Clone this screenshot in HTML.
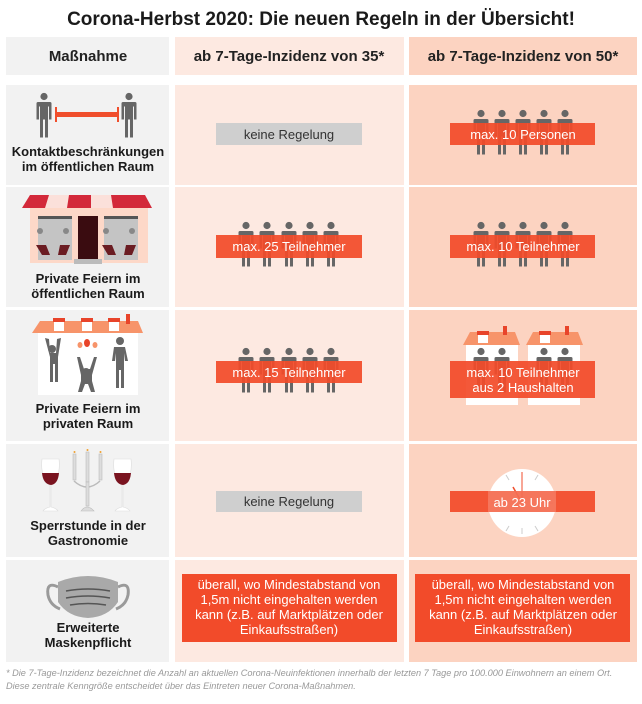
<!DOCTYPE html>
<html><head><meta charset="utf-8"><style>
html,body{margin:0;padding:0;background:#fff;}
body{width:642px;height:699px;overflow:hidden;font-family:"Liberation Sans",sans-serif;}
</style></head><body>
<svg width="642" height="699" viewBox="0 0 642 699" xmlns="http://www.w3.org/2000/svg" font-family="Liberation Sans, sans-serif">
<defs>
<g id="p" fill="#666">
<circle cx="0" cy="3.5" r="3.6"/>
<path d="M-6,9 h12 a1.5,1.5 0 0 1 1.5,1.5 v16 h-2.5 v-13 h-1 v31 h-3 v-18 h-2 v18 h-3 v-31 h-1 v13 h-2.5 v-16 a1.5,1.5 0 0 1 1.5,-1.5z"/>
</g>
</defs>
<text x="321" y="25" text-anchor="middle" font-size="19" font-weight="bold" fill="#1a1a1a">Corona-Herbst 2020: Die neuen Regeln in der Übersicht!</text>
<rect x="6" y="37" width="163" height="38" fill="#f2f2f2"/>
<rect x="175" y="37" width="229" height="38" fill="#fde9e1"/>
<rect x="409" y="37" width="228" height="38" fill="#fcd3c1"/>
<g font-size="15" font-weight="bold" fill="#222" text-anchor="middle">
<text x="88" y="61">Maßnahme</text>
<text x="289" y="61">ab 7-Tage-Inzidenz von 35*</text>
<text x="523" y="61">ab 7-Tage-Inzidenz von 50*</text>
</g>
<g fill="#f2f2f2">
<rect x="6" y="85" width="163" height="100"/><rect x="6" y="187" width="163" height="120"/><rect x="6" y="310" width="163" height="131"/><rect x="6" y="444" width="163" height="113"/><rect x="6" y="560" width="163" height="102"/>
</g>
<g fill="#fde9e1">
<rect x="175" y="85" width="229" height="100"/><rect x="175" y="187" width="229" height="120"/><rect x="175" y="310" width="229" height="131"/><rect x="175" y="444" width="229" height="113"/><rect x="175" y="560" width="229" height="102"/>
</g>
<g fill="#fcd3c1">
<rect x="409" y="85" width="228" height="100"/><rect x="409" y="187" width="228" height="120"/><rect x="409" y="310" width="228" height="131"/><rect x="409" y="444" width="228" height="113"/><rect x="409" y="560" width="228" height="102"/>
</g>
<g font-size="13" font-weight="bold" fill="#1a1a1a" text-anchor="middle">
<text x="88" y="156">Kontaktbeschränkungen</text><text x="88" y="171">im öffentlichen Raum</text>
<text x="88" y="283">Private Feiern im</text><text x="88" y="298">öffentlichen Raum</text>
<text x="88" y="413">Private Feiern im</text><text x="88" y="428">privaten Raum</text>
<text x="88" y="530">Sperrstunde in der</text><text x="88" y="545">Gastronomie</text>
<text x="88" y="632">Erweiterte</text><text x="88" y="647">Maskenpflicht</text>
</g>
<use href="#p" transform="translate(44,93)"/>
<use href="#p" transform="translate(129,93)"/>
<rect x="56" y="112" width="62" height="5" fill="#f04e2c"/>
<rect x="55" y="107" width="2" height="15" fill="#f04e2c"/><rect x="117" y="107" width="2" height="15" fill="#f04e2c"/>
<rect x="216" y="123" width="146" height="22" fill="#cfcfcf"/>
<text x="289" y="139" text-anchor="middle" font-size="13" fill="#333">keine Regelung</text>
<g transform="translate(0,110)"><use href="#p" x="481"/><use href="#p" x="502"/><use href="#p" x="523"/><use href="#p" x="544"/><use href="#p" x="565"/></g>
<rect x="450" y="123" width="145" height="22" fill="#f24b2a" fill-opacity="0.93"/>
<text x="523" y="139" text-anchor="middle" font-size="13" fill="#fff">max. 10 Personen</text>
<rect x="30" y="208" width="118" height="55" fill="#fdd8c8"/>
<path d="M22,208 L30,195 H145 L152,208Z" fill="#d3293a"/>
<path d="M49,195 h20 l-2,13 h-22z M91,195 h20 l2,13 h-22z" fill="#fbe0da"/>
<rect x="38" y="216" width="34" height="44" fill="#c4c4c4"/><rect x="104" y="216" width="34" height="44" fill="#c4c4c4"/>
<rect x="38" y="216" width="34" height="3" fill="#555"/><rect x="104" y="216" width="34" height="3" fill="#555"/>
<rect x="78" y="216" width="20" height="43" fill="#3a0c10"/>
<rect x="74" y="259" width="28" height="5" fill="#bbb"/>
<g fill="#6b1c22"><path d="M36,245 h10 l4,10 h-8z"/><path d="M60,245 h10 l-4,10 h-8z"/><path d="M102,245 h10 l4,10 h-8z"/><path d="M126,245 h10 l-4,10 h-8z"/></g>
<g fill="#888"><circle cx="40" cy="231" r="3"/><circle cx="66" cy="231" r="3"/><circle cx="106" cy="231" r="3"/><circle cx="132" cy="231" r="3"/></g>
<g transform="translate(0,222)"><use href="#p" x="246"/><use href="#p" x="267"/><use href="#p" x="289"/><use href="#p" x="310"/><use href="#p" x="331"/></g>
<rect x="216" y="235" width="146" height="23" fill="#f24b2a" fill-opacity="0.93"/>
<text x="289" y="251" text-anchor="middle" font-size="13" fill="#fff">max. 25 Teilnehmer</text>
<g transform="translate(0,222)"><use href="#p" x="481"/><use href="#p" x="502"/><use href="#p" x="523"/><use href="#p" x="544"/><use href="#p" x="565"/></g>
<rect x="450" y="235" width="145" height="23" fill="#f24b2a" fill-opacity="0.93"/>
<text x="523" y="251" text-anchor="middle" font-size="13" fill="#fff">max. 10 Teilnehmer</text>
<rect x="38" y="333" width="100" height="62" fill="#fff"/>
<path d="M32,333 L40,321 H138 L143,333Z" fill="#f7946a"/>
<g fill="#e8442a"><rect x="53" y="318" width="12" height="4"/><rect x="81" y="318" width="12" height="4"/><rect x="108" y="318" width="12" height="4"/><rect x="126" y="314" width="4" height="10"/></g>
<g fill="#fff"><rect x="54" y="322" width="10" height="9"/><rect x="82" y="322" width="10" height="9"/><rect x="109" y="322" width="10" height="9"/></g>
<g fill="#666">
<circle cx="52" cy="349" r="4"/><path d="M45,338 l4,1 l1,14 h6 l1,-14 l4,-1 l-3,19 v25 h-3 v-18 h-2 v18 h-3 v-25z"/>
<circle cx="86" cy="372" r="4"/><path d="M77,357 l3,0 l4,12 h6 l4,-12 h3 l-5,18 v6 l3,11 h-4 l-3,-8 h-3 l-3,8 h-4 l3,-11 v-6z"/>
<circle cx="120" cy="341" r="4"/><path d="M114,347 h11 l3,14 h-3 l-1,-8 v35 h-3 v-18 h-2 v18 h-3 v-35 l-1,8 h-3z"/>
</g>
<g fill="#e8442a"><ellipse cx="87" cy="343" rx="3" ry="4"/><ellipse cx="80" cy="345" rx="2.5" ry="3" fill="#f7946a"/><ellipse cx="95" cy="345" rx="2.5" ry="3" fill="#f7946a"/></g>
<g transform="translate(0,348)"><use href="#p" x="246"/><use href="#p" x="267"/><use href="#p" x="289"/><use href="#p" x="310"/><use href="#p" x="331"/></g>
<rect x="216" y="361" width="146" height="22" fill="#f24b2a" fill-opacity="0.93"/>
<text x="289" y="377" text-anchor="middle" font-size="13" fill="#fff">max. 15 Teilnehmer</text>
<rect x="466" y="345" width="52" height="60" fill="#fff"/><rect x="528" y="345" width="52" height="60" fill="#fff"/>
<path d="M463,345 L470,332 H515 L520,345Z M526,345 L533,332 H578 L583,345Z" fill="#f7946a"/>
<g fill="#e8442a"><rect x="477" y="331" width="12" height="4"/><rect x="503" y="326" width="4" height="9"/><rect x="539" y="331" width="12" height="4"/><rect x="565" y="326" width="4" height="9"/></g>
<g fill="#fff"><rect x="478" y="335" width="10" height="8"/><rect x="540" y="335" width="10" height="8"/></g>
<g transform="translate(0,348)"><use href="#p" x="481"/><use href="#p" x="502"/><use href="#p" x="544"/><use href="#p" x="565"/></g>
<rect x="450" y="361" width="145" height="37" fill="#f24b2a" fill-opacity="0.93"/>
<text x="523" y="377" text-anchor="middle" font-size="13" fill="#fff">max. 10 Teilnehmer</text>
<text x="523" y="392" text-anchor="middle" font-size="13" fill="#fff">aus 2 Haushalten</text>
<g>
<path d="M42,459 h17 q2,18 -8,26 v22 q5,1 7,4 h-15 q2,-3 7,-4 v-22 q-10,-8 -8,-26z" fill="#fff" stroke="#ddd" stroke-width="0.6"/>
<path d="M42,473 h17 q-1,11 -8,12 q-8,-1 -9,-12z" fill="#7a1420"/>
<path d="M114,459 h17 q2,18 -8,26 v22 q5,1 7,4 h-15 q2,-3 7,-4 v-22 q-10,-8 -8,-26z" fill="#fff" stroke="#ddd" stroke-width="0.6"/>
<path d="M114,473 h17 q-1,11 -8,12 q-8,-1 -9,-12z" fill="#7a1420"/>
<g fill="#ddd" stroke="#bbb" stroke-width="0.6">
<rect x="73" y="454" width="3" height="26"/><rect x="86" y="452" width="3" height="30"/><rect x="99" y="454" width="3" height="26"/>
<path d="M74,481 q13,12 26,0" fill="none" stroke="#bbb" stroke-width="1.5"/>
<rect x="86" y="482" width="3" height="24"/><path d="M81,511 q6,-8 13,0z"/>
</g>
<g fill="#f0a030"><circle cx="74.5" cy="452" r="1"/><circle cx="87.5" cy="450" r="1"/><circle cx="100.5" cy="452" r="1"/></g>
</g>
<rect x="216" y="491" width="146" height="21" fill="#cfcfcf"/>
<text x="289" y="506" text-anchor="middle" font-size="13" fill="#333">keine Regelung</text>
<circle cx="522" cy="503" r="34" fill="#fff"/>
<g stroke="#ccc" stroke-width="1"><line x1="522" y1="472" x2="522" y2="478"/><line x1="522" y1="528" x2="522" y2="534"/><line x1="491" y1="503" x2="497" y2="503"/><line x1="547" y1="503" x2="553" y2="503"/><line x1="538" y1="475" x2="535" y2="480"/><line x1="506" y1="475" x2="509" y2="480"/><line x1="538" y1="531" x2="535" y2="526"/><line x1="506" y1="531" x2="509" y2="526"/></g>
<line x1="522" y1="503" x2="522" y2="472" stroke="#f04e2c" stroke-width="1"/>
<line x1="522" y1="503" x2="513" y2="487" stroke="#f04e2c" stroke-width="1.5"/>
<rect x="450" y="491" width="145" height="21" fill="#f24b2a" fill-opacity="0.93"/>
<rect x="488" y="491" width="68" height="21" fill="#fff" fill-opacity="0.18"/>
<text x="522" y="507" text-anchor="middle" font-size="13" fill="#fff">ab 23 Uhr</text>
<path d="M58,587 q-12,-6 -10,8 q2,10 12,14" fill="none" stroke="#9a9a9a" stroke-width="3"/>
<path d="M118,587 q12,-6 10,8 q-2,10 -12,14" fill="none" stroke="#9a9a9a" stroke-width="3"/>
<path d="M58,582 q30,-12 60,0 v20 q-10,15 -30,16 q-20,-1 -30,-16z" fill="#a9a9a9"/>
<g stroke="#555" stroke-width="1.6" fill="none"><path d="M66,591 q22,-4 44,0"/><path d="M66,598 q22,-4 44,0"/><path d="M70,605 q18,-3 36,0"/></g>
<rect x="182" y="574" width="215" height="68" fill="#f24b2a"/>
<rect x="415" y="574" width="215" height="68" fill="#f24b2a"/>
<g font-size="13" fill="#fff" text-anchor="middle">
<text x="289" y="589">überall, wo Mindestabstand von</text><text x="289" y="604">1,5m nicht eingehalten werden</text><text x="289" y="619">kann (z.B. auf Marktplätzen oder</text><text x="289" y="634">Einkaufsstraßen)</text>
<text x="523" y="589">überall, wo Mindestabstand von</text><text x="523" y="604">1,5m nicht eingehalten werden</text><text x="523" y="619">kann (z.B. auf Marktplätzen oder</text><text x="523" y="634">Einkaufsstraßen)</text>
</g>
<g font-size="9.2" font-style="italic" fill="#999">
<text x="6" y="676">* Die 7-Tage-Inzidenz bezeichnet die Anzahl an aktuellen Corona-Neuinfektionen innerhalb der letzten 7 Tage pro 100.000 Einwohnern an einem Ort.</text>
<text x="6" y="689">Diese zentrale Kenngröße entscheidet über das Eintreten neuer Corona-Maßnahmen.</text>
</g>
</svg>
</body></html>
